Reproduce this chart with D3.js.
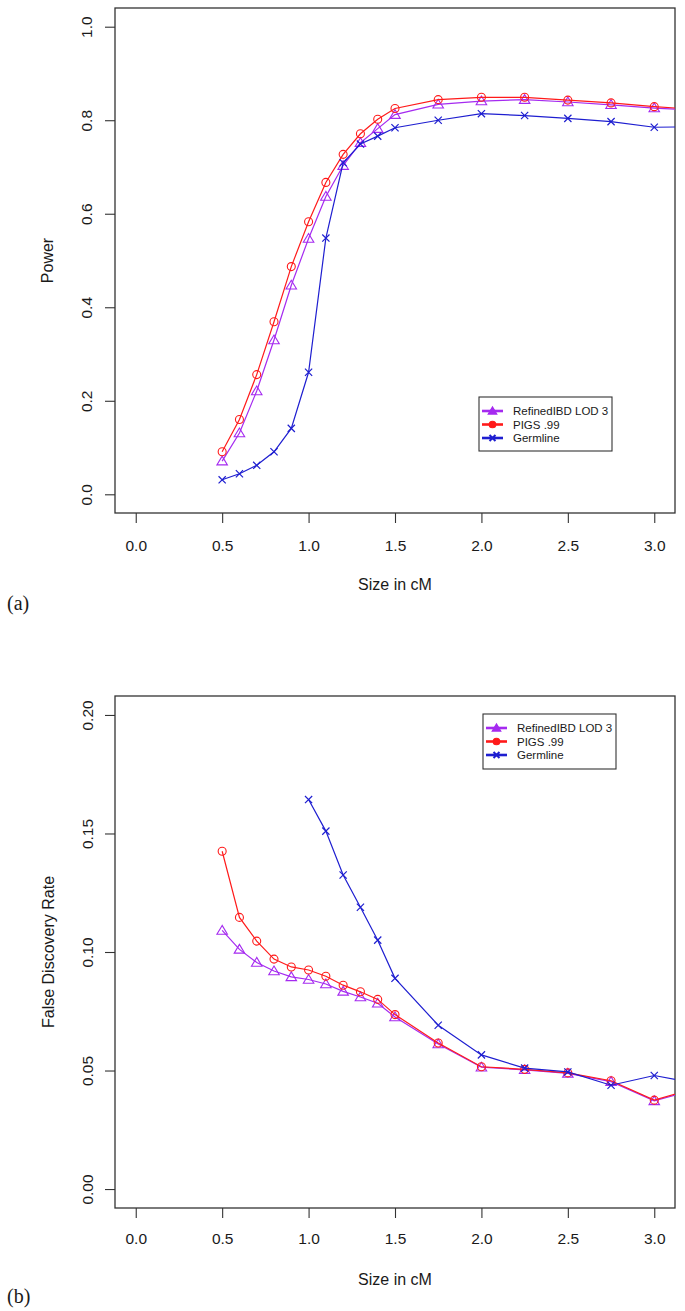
<!DOCTYPE html>
<html>
<head>
<meta charset="utf-8">
<script src="https://cdn.jsdelivr.net/npm/d3@7"></script>
<style>
  html, body { margin: 0; padding: 0; background: #fff; }
  svg { display: block; }
  text { font-family: "Liberation Sans", Arial, Helvetica, sans-serif; fill: #1a1a1a; }
</style>
</head>
<body>
<svg id="chart" width="685" height="1311"></svg>
<script>
// ---------- data ----------
const sizes = [0.5, 0.6, 0.7, 0.8, 0.9, 1.0, 1.1, 1.2, 1.3, 1.4, 1.5, 1.75, 2.0, 2.25, 2.5, 2.75, 3.0, 3.25];

const powerRefined  = [0.071, 0.131, 0.221, 0.330, 0.447, 0.547, 0.637, 0.703, 0.752, 0.782, 0.812, 0.834, 0.841, 0.844, 0.839, 0.833, 0.826, 0.821];
const powerPigs     = [0.091, 0.160, 0.256, 0.369, 0.487, 0.583, 0.667, 0.727, 0.771, 0.802, 0.825, 0.844, 0.849, 0.849, 0.843, 0.837, 0.829, 0.823];
const powerGermline = [0.031, 0.044, 0.062, 0.091, 0.141, 0.261, 0.548, 0.709, 0.749, 0.766, 0.784, 0.800, 0.814, 0.810, 0.804, 0.797, 0.785, 0.786];

const fdrRefined  = [0.1091, 0.1011, 0.0956, 0.0920, 0.0895, 0.0884, 0.0865, 0.0834, 0.0810, 0.0784, 0.0726, 0.0612, 0.0514, 0.0503, 0.0488, 0.0453, 0.0372, 0.0422];
const fdrPigs     = [0.1425, 0.1146, 0.1046, 0.0970, 0.0937, 0.0924, 0.0898, 0.0860, 0.0832, 0.0800, 0.0736, 0.0616, 0.0516, 0.0505, 0.0490, 0.0457, 0.0375, 0.0428];
const fdrGermline = [null, null, null, null, null, 0.1643, 0.1510, 0.1325, 0.1189, 0.1050, 0.0889, 0.0691, 0.0566, 0.0510, 0.0494, 0.0438, 0.0479, 0.0445];

const seriesNames = ["RefinedIBD LOD 3", "PIGS .99", "Germline"];

const xTicks = [0.0, 0.5, 1.0, 1.5, 2.0, 2.5, 3.0];
const powerTicks = [0.0, 0.2, 0.4, 0.6, 0.8, 1.0];
const fdrTicks = [0.00, 0.05, 0.10, 0.15, 0.20];

// ---------- styles ----------
const seriesStyle = [
  { color: "#A52AF0", shape: "triangle" },
  { color: "#FF1A1A", shape: "circle" },
  { color: "#1E1ED0", shape: "cross" }
];

const svg = d3.select("#chart");

function marker(g, shape, cx, cy, color, filled, size) {
  if (shape === "circle") {
    g.append("circle").attr("cx", cx).attr("cy", cy).attr("r", size)
      .attr("fill", filled ? color : "none").attr("stroke", color).attr("stroke-width", 1.1);
  } else if (shape === "triangle") {
    const s = size * 1.25;
    const pts = [[cx, cy - s], [cx - s * 1.05, cy + s * 0.75], [cx + s * 1.05, cy + s * 0.75]];
    g.append("polygon").attr("points", pts.map(p => p.join(",")).join(" "))
      .attr("fill", filled ? color : "none").attr("stroke", color).attr("stroke-width", 1.1);
  } else {
    const s = size * 0.9;
    g.append("path").attr("d", `M${cx - s},${cy - s}L${cx + s},${cy + s}M${cx - s},${cy + s}L${cx + s},${cy - s}`)
      .attr("stroke", color).attr("stroke-width", filled ? 2 : 1.2).attr("fill", "none");
  }
}

function panel(cfg) {
  const x = d3.scaleLinear().domain([-0.12, 3.12]).range([cfg.left, cfg.right]);
  const y = d3.scaleLinear().domain(cfg.yDomain).range([cfg.bottom, cfg.top]);

  const clipId = "clip" + cfg.id;
  svg.append("clipPath").attr("id", clipId).append("rect")
    .attr("x", cfg.left).attr("y", cfg.top)
    .attr("width", cfg.right - cfg.left).attr("height", cfg.bottom - cfg.top);

  // x axis
  const xa = svg.append("g").attr("transform", `translate(0,${cfg.bottom})`)
    .call(d3.axisBottom(x).tickValues(xTicks).tickFormat(d3.format(".1f")).tickSize(10).tickPadding(0));
  xa.select(".domain").remove();
  xa.selectAll(".tick line").attr("stroke", "#333").attr("stroke-width", 1.1);
  xa.selectAll(".tick text").attr("y", cfg.xLabelY - cfg.bottom).attr("dy", "0.35em")
    .style("font-size", "15.5px").style("font-family", "'Liberation Sans', Arial, sans-serif").attr("fill", "#1a1a1a");

  // y axis
  const ya = svg.append("g").attr("transform", `translate(${cfg.left},0)`)
    .call(d3.axisLeft(y).tickValues(cfg.yTicks).tickFormat(d3.format(cfg.yFormat)).tickSize(10));
  ya.select(".domain").remove();
  ya.selectAll(".tick line").attr("stroke", "#333").attr("stroke-width", 1.1);
  ya.selectAll(".tick text")
    .attr("x", 0).attr("dy", null)
    .attr("text-anchor", "middle")
    .attr("dominant-baseline", "central")
    .attr("transform", `translate(${cfg.yLabelX - cfg.left},0) rotate(-90)`)
    .style("font-size", "15.5px").style("font-family", "'Liberation Sans', Arial, sans-serif").attr("fill", "#1a1a1a");

  // box
  svg.append("rect").attr("x", cfg.left).attr("y", cfg.top)
    .attr("width", cfg.right - cfg.left).attr("height", cfg.bottom - cfg.top)
    .attr("fill", "none").attr("stroke", "#333").attr("stroke-width", 1.3);

  // axis titles
  svg.append("text").attr("x", (cfg.left + cfg.right) / 2).attr("y", cfg.xTitleY)
    .attr("text-anchor", "middle").attr("dominant-baseline", "central")
    .style("font-size", "16px").text("Size in cM");
  svg.append("text")
    .attr("transform", `translate(${cfg.yTitleX},${(cfg.top + cfg.bottom) / 2}) rotate(-90)`)
    .attr("text-anchor", "middle").attr("dominant-baseline", "central")
    .style("font-size", "16px").text(cfg.yTitle);

  // panel tag
  svg.append("text").attr("x", 7).attr("y", cfg.tagY)
    .style("font-family", "'Liberation Serif', 'DejaVu Serif', serif").style("font-size", "20px")
    .attr("dominant-baseline", "central").text(cfg.tag);

  // series
  const plot = svg.append("g").attr("clip-path", `url(#${clipId})`);
  cfg.series.forEach((vals, i) => {
    const st = seriesStyle[i];
    const pts = sizes.map((s, k) => ({ s, v: vals[k] })).filter(d => d.v !== null);
    const line = d3.line().x(d => x(d.s)).y(d => y(d.v));
    plot.append("path").datum(pts).attr("d", line)
      .attr("fill", "none").attr("stroke", st.color).attr("stroke-width", 1.2);
    const mg = plot.append("g");
    pts.forEach(d => marker(mg, st.shape, x(d.s), y(d.v), st.color, false, 4));
  });

  // legend
  const L = cfg.legend;
  svg.append("rect").attr("x", L.x).attr("y", L.y).attr("width", L.w).attr("height", L.h)
    .attr("fill", "#fff").attr("stroke", "#333").attr("stroke-width", 1.1);
  seriesNames.forEach((name, i) => {
    const st = seriesStyle[i];
    const ry = L.y + 14 + i * 13.5;
    svg.append("line").attr("x1", L.x + 3).attr("x2", L.x + 24).attr("y1", ry).attr("y2", ry)
      .attr("stroke", st.color).attr("stroke-width", 2.6);
    const lg = svg.append("g");
    marker(lg, st.shape, L.x + 13.5, ry, st.color, true, 3.3);
    svg.append("text").attr("x", L.x + 34).attr("y", ry).attr("dominant-baseline", "central")
      .style("font-size", "11.5px").text(name);
  });
}

panel({
  id: "a", left: 115, right: 675, top: 8, bottom: 513,
  yDomain: [-0.04, 1.04], yTicks: powerTicks, yFormat: ".1f",
  xLabelY: 546, xTitleY: 584, yLabelX: 86, yTitleX: 47,
  yTitle: "Power", tag: "(a)", tagY: 603,
  series: [powerRefined, powerPigs, powerGermline],
  legend: { x: 479, y: 397, w: 133, h: 54 }
});

panel({
  id: "b", left: 115, right: 675, top: 696, bottom: 1208,
  yDomain: [-0.008, 0.208], yTicks: fdrTicks, yFormat: ".2f",
  xLabelY: 1239, xTitleY: 1279, yLabelX: 87, yTitleX: 48,
  yTitle: "False Discovery Rate", tag: "(b)", tagY: 1296,
  series: [fdrRefined, fdrPigs, fdrGermline],
  legend: { x: 483, y: 714, w: 133, h: 55 }
});
</script>
</body>
</html>
